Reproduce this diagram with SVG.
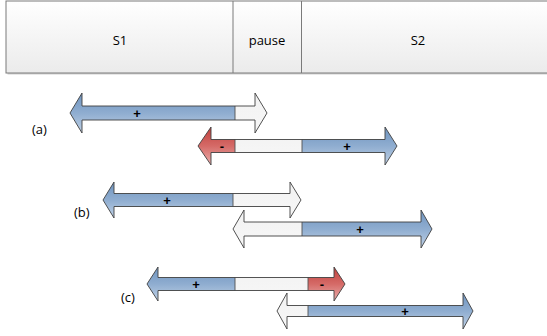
<svg xmlns="http://www.w3.org/2000/svg" width="547" height="336" viewBox="0 0 547 336">
<defs>
<linearGradient id="gBox" x1="0" y1="0" x2="0" y2="1"><stop offset="0" stop-color="#ffffff"/><stop offset="1" stop-color="#ebebeb"/></linearGradient>
<linearGradient id="gBlue" x1="0" y1="0" x2="0" y2="1"><stop offset="0" stop-color="#6f94bf"/><stop offset="0.5" stop-color="#8fadd0"/><stop offset="1" stop-color="#bfd1e6"/></linearGradient>
<linearGradient id="gRed" x1="0" y1="0" x2="0" y2="1"><stop offset="0" stop-color="#c0403d"/><stop offset="0.5" stop-color="#d56a67"/><stop offset="1" stop-color="#eab0ae"/></linearGradient>
<linearGradient id="gWhite" x1="0" y1="0" x2="0" y2="1"><stop offset="0" stop-color="#f2f2f2"/><stop offset="1" stop-color="#f7f7f7"/></linearGradient>
<clipPath id="ca1"><path d="M70,113 L82,93 L82,106 L255,106 L255,93 L267,113 L255,133 L255,120 L82,120 L82,133 Z"/></clipPath>
<clipPath id="ca2"><path d="M198,146 L211,127 L211,139.5 L385,139.5 L385,127 L397,146 L385,165 L385,152.5 L211,152.5 L211,165 Z"/></clipPath>
<clipPath id="cb1"><path d="M103,200 L114,182 L114,193.5 L290,193.5 L290,182 L301,200 L290,218 L290,206.5 L114,206.5 L114,218 Z"/></clipPath>
<clipPath id="cb2"><path d="M233,229 L244,210 L244,222 L421,222 L421,210 L432,229 L421,248 L421,236 L244,236 L244,248 Z"/></clipPath>
<clipPath id="cc1"><path d="M147,284 L158,267 L158,277.5 L334,277.5 L334,267 L345,284 L334,301 L334,290.5 L158,290.5 L158,301 Z"/></clipPath>
<clipPath id="cc2"><path d="M277,311 L287,293 L287,305.5 L463,305.5 L463,293 L473,311 L463,329 L463,316.5 L287,316.5 L287,329 Z"/></clipPath>
</defs>
<style>
.txt{font-family:"Open Sans","Liberation Sans",sans-serif;font-size:13px;fill:#000;text-anchor:middle}
.lbl{font-family:"Open Sans","Liberation Sans",sans-serif;font-size:13px;fill:#000}
.sign{font-family:"Liberation Sans",sans-serif;font-size:13px;font-weight:bold;fill:#000;text-anchor:middle}
.out{fill:none;stroke:#404040;stroke-width:0.9;stroke-linejoin:miter}
.div{stroke:#505050;stroke-width:0.9}
.blue{fill:url(#gBlue)}
.red{fill:url(#gRed)}
.white{fill:url(#gWhite)}
</style>

<g id="timeline">
<rect x="7.5" y="2.5" width="545" height="72" fill="#d0d0d0"/>
<rect x="6" y="1" width="545" height="72" fill="url(#gBox)" stroke="#7a7a7a" stroke-width="1"/>
<line x1="233" y1="1" x2="233" y2="73" stroke="#7a7a7a" stroke-width="1"/>
<line x1="301.5" y1="1" x2="301.5" y2="73" stroke="#7a7a7a" stroke-width="1"/>
<text class="txt" x="120" y="45">S1</text>
<text class="txt" x="267" y="45">pause</text>
<text class="txt" x="418" y="45">S2</text>
</g>

<g id="labels">
<text class="lbl" x="32" y="134">(a)</text>
<text class="lbl" x="74" y="217">(b)</text>
<text class="lbl" x="121" y="302">(c)</text>
</g>

<g id="arrow-a1">
<g clip-path="url(#ca1)"><rect class="blue" x="60" y="93" width="175" height="40"/><rect class="white" x="235" y="93" width="40" height="40"/></g>
<line class="div" x1="235" y1="106" x2="235" y2="120"/>
<path class="out" d="M70,113 L82,93 L82,106 L255,106 L255,93 L267,113 L255,133 L255,120 L82,120 L82,133 Z"/>
<text class="sign" x="137" y="117.5">+</text>
</g>

<g id="arrow-a2">
<g clip-path="url(#ca2)"><rect class="red" x="190" y="127" width="45" height="38"/><rect class="white" x="235" y="127" width="67" height="38"/><rect class="blue" x="302" y="127" width="100" height="38"/></g>
<line class="div" x1="235" y1="139.5" x2="235" y2="152.5"/>
<line class="div" x1="302" y1="139.5" x2="302" y2="152.5"/>
<path class="out" d="M198,146 L211,127 L211,139.5 L385,139.5 L385,127 L397,146 L385,165 L385,152.5 L211,152.5 L211,165 Z"/>
<text class="sign" x="222" y="150.5">-</text>
<text class="sign" x="347" y="150.5">+</text>
</g>

<g id="arrow-b1">
<g clip-path="url(#cb1)"><rect class="blue" x="100" y="182" width="133" height="36"/><rect class="white" x="233" y="182" width="72" height="36"/></g>
<line class="div" x1="233" y1="193.5" x2="233" y2="206.5"/>
<path class="out" d="M103,200 L114,182 L114,193.5 L290,193.5 L290,182 L301,200 L290,218 L290,206.5 L114,206.5 L114,218 Z"/>
<text class="sign" x="167" y="204.5">+</text>
</g>

<g id="arrow-b2">
<g clip-path="url(#cb2)"><rect class="white" x="230" y="210" width="72" height="38"/><rect class="blue" x="302" y="210" width="135" height="38"/></g>
<line class="div" x1="302" y1="222" x2="302" y2="236"/>
<path class="out" d="M233,229 L244,210 L244,222 L421,222 L421,210 L432,229 L421,248 L421,236 L244,236 L244,248 Z"/>
<text class="sign" x="360" y="233.5">+</text>
</g>

<g id="arrow-c1">
<g clip-path="url(#cc1)"><rect class="blue" x="144" y="267" width="91" height="34"/><rect class="white" x="235" y="267" width="73" height="34"/><rect class="red" x="308" y="267" width="42" height="34"/></g>
<line class="div" x1="235" y1="277.5" x2="235" y2="290.5"/>
<line class="div" x1="308" y1="277.5" x2="308" y2="290.5"/>
<path class="out" d="M147,284 L158,267 L158,277.5 L334,277.5 L334,267 L345,284 L334,301 L334,290.5 L158,290.5 L158,301 Z"/>
<text class="sign" x="196" y="288.5">+</text>
<text class="sign" x="322" y="288.5">-</text>
</g>

<g id="arrow-c2">
<g clip-path="url(#cc2)"><rect class="white" x="274" y="293" width="34" height="36"/><rect class="blue" x="308" y="293" width="170" height="36"/></g>
<line class="div" x1="308" y1="305.5" x2="308" y2="316.5"/>
<path class="out" d="M277,311 L287,293 L287,305.5 L463,305.5 L463,293 L473,311 L463,329 L463,316.5 L287,316.5 L287,329 Z"/>
<text class="sign" x="405" y="315.5">+</text>
</g>
</svg>
